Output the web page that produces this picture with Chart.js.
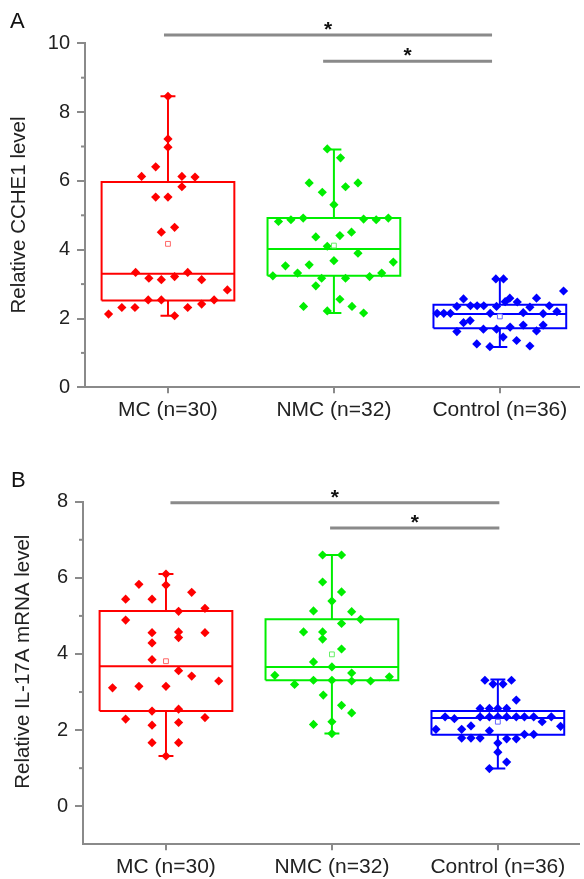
<!DOCTYPE html>
<html>
<head>
<meta charset="utf-8">
<script src="https://cdn.jsdelivr.net/npm/chart.js@4.4.0/dist/chart.umd.min.js"></script>
<style>
  html, body { margin: 0; padding: 0; background: #fff; }
  .panel { position: absolute; left: 0; width: 584px; }
  #pa { top: 0; height: 440px; }
  #pb { top: 440px; height: 439px; }
</style>
</head>
<body>
<div class="panel" id="pa"><canvas id="chartA"></canvas></div>
<div class="panel" id="pb"><canvas id="chartB"></canvas></div>
<script>
const groups = ["MC (n=30)", "NMC (n=32)", "Control (n=36)"];
const groupColors = ["#ff0000", "#00ee00", "#0000ff"];
const meanColors = ["#ff6666", "#66ee66", "#6666ff"];

// ---- panel A: relative CCHE1 level ----
const aMC = [8.46, 7.22, 6.98, 6.41, 6.13, 6.13, 6.11, 5.83, 5.53, 5.53, 4.51, 4.65, 3.34, 3.17, 3.13, 3.22, 3.34, 3.13, 2.83, 2.54, 2.54, 2.54, 2.42, 2.32, 2.32, 2.32, 2.13, 2.08];
const aMCJitter = [0, 0, 0, -0.074, -0.159, 0.084, 0.163, 0.084, -0.074, 0, -0.04, 0.04, -0.195, -0.115, -0.04, 0.04, 0.119, 0.203, 0.358, -0.119, -0.04, 0.278, 0.203, 0.119, -0.278, -0.199, -0.358, 0.04];
const aNMC = [6.93, 6.67, 5.94, 5.67, 5.83, 5.94, 5.31, 4.82, 4.87, 4.92, 4.89, 4.87, 4.92, 4.37, 4.41, 4.51, 4.10, 3.90, 3.68, 3.64, 3.53, 3.56, 3.32, 3.24, 3.17, 3.17, 3.22, 3.32, 2.95, 2.56, 2.35, 2.35, 2.22, 2.16];
const aNMCJitter = [-0.04, 0.04, -0.149, -0.07, 0.07, 0.145, 0, -0.334, -0.259, -0.185, 0.179, 0.255, 0.328, -0.109, 0.036, 0.106, -0.04, 0.145, 0, 0.358, -0.292, -0.149, -0.219, -0.368, -0.074, 0.07, 0.215, 0.288, -0.109, 0.036, -0.183, 0.109, -0.04, 0.179];
const aCtrl = [3.15, 3.15, 2.80, 2.57, 2.59, 2.59, 2.49, 2.48, 2.35, 2.37, 2.37, 2.37, 2.35, 2.33, 2.37, 2.20, 2.15, 2.15, 2.15, 2.15, 2.17, 2.14, 1.88, 1.94, 1.75, 1.81, 1.81, 1.62, 1.69, 1.69, 1.64, 1.46, 1.36, 1.26, 1.18, 1.20];
const aCtrlJitter = [-0.024, 0.022, 0.384, -0.219, 0.221, 0.06, 0.032, 0.105, -0.259, -0.177, -0.137, -0.097, -0.02, 0.181, 0.298, 0.344, -0.378, -0.338, -0.298, -0.058, 0.141, 0.261, -0.219, -0.179, 0.062, 0.141, 0.261, -0.259, -0.099, -0.02, 0.221, 0.02, 0.101, -0.139, -0.06, 0.181];
// box stats: [min, q1, median, q3, max]
const aBoxes = [[2.08, 2.52, 3.30, 5.97, 8.46], [2.16, 3.24, 4.02, 4.92, 6.91], [1.17, 1.72, 2.13, 2.40, 3.15]];
const aMeans = [4.17, 4.12, 2.06];
// significance bars: [from, to, level]
const aSig = [[0.976, 2.953, 10.24], [1.935, 2.953, 9.48]];
const aYTicks = [0, 2, 4, 6, 8, 10];
const aYMinor = [1, 3, 5, 7, 9];

// ---- panel B: relative IL-17A mRNA level ----
const bMC = [6.10, 5.81, 5.83, 5.44, 5.44, 5.62, 5.20, 5.12, 4.89, 4.56, 4.58, 4.43, 4.56, 4.29, 3.85, 3.56, 3.42, 3.29, 3.11, 3.15, 3.15, 2.50, 2.55, 2.29, 2.33, 2.13, 2.20, 1.67, 1.67, 1.32];
const bMCJitter = [0, 0, -0.163, -0.243, -0.084, 0.155, 0.235, 0.076, -0.243, -0.084, 0.076, 0.076, 0.235, -0.084, -0.084, 0.076, 0.155, 0.318, -0.322, -0.163, 0, -0.084, 0.076, -0.243, 0.235, -0.084, 0.076, -0.084, 0.076, 0];
const bNMC = [6.60, 6.60, 5.89, 5.63, 5.39, 5.13, 5.11, 4.91, 4.80, 4.58, 4.58, 4.39, 4.13, 3.79, 3.66, 3.44, 3.50, 3.40, 3.20, 3.31, 3.31, 3.29, 3.29, 2.92, 2.65, 2.45, 2.15, 2.22, 1.91];
const bNMCJitter = [-0.056, 0.058, -0.056, 0.058, 0, -0.111, 0.119, 0.173, 0.058, -0.171, -0.056, -0.056, 0.058, -0.111, 0, -0.344, 0.119, 0.346, -0.225, -0.111, 0, 0.119, 0.233, -0.052, 0.058, 0.119, -0.111, 0, 0];
const bCtrl = [3.31, 3.31, 3.21, 3.21, 2.79, 2.57, 2.57, 2.57, 2.57, 2.35, 2.30, 2.35, 2.35, 2.35, 2.35, 2.35, 2.35, 2.35, 2.22, 2.35, 2.02, 2.10, 2.02, 2.11, 1.98, 1.79, 1.79, 1.79, 1.77, 1.77, 1.89, 1.89, 1.66, 1.42, 1.16, 0.99];
const bCtrlJitter = [-0.078, 0.082, -0.029, 0.031, 0.111, -0.107, -0.051, 0, 0.053, -0.318, -0.262, -0.107, -0.051, 0, 0.053, 0.111, 0.16, 0.216, 0.267, 0.322, -0.373, 0.378, -0.218, -0.162, -0.051, -0.218, -0.162, -0.107, 0.053, 0.111, 0.16, 0.216, 0, 0, 0.053, -0.051];
const bBoxes = [[1.32, 2.50, 3.68, 5.13, 6.10], [1.91, 3.31, 3.66, 4.91, 6.60], [0.99, 1.88, 2.32, 2.50, 3.33]];
const bMeans = [3.81, 3.99, 2.22];
const bSig = [[1.027, 3.009, 7.97], [1.989, 3.009, 7.31]];
const bYTicks = [0, 2, 4, 6, 8];
const bYMinor = [1, 3, 5, 7];

const family = "'Liberation Sans', Arial, Helvetica, sans-serif";
const axisColor = "#8a8a8a";
Chart.defaults.font.family = family;

function boxLines(c, s) {
  const [mn, q1, md, q3, mx] = s;
  const h = 0.4, cap = 0.045;
  return [
    {x: c - h, y: q1}, {x: c + h, y: q1}, {x: c + h, y: q3}, {x: c - h, y: q3}, {x: c - h, y: q1}, {x: c, y: null},
    {x: c - h, y: md}, {x: c + h, y: md}, {x: c, y: null},
    {x: c, y: q3}, {x: c, y: mx}, {x: c, y: null},
    {x: c - cap, y: mx}, {x: c + cap, y: mx}, {x: c, y: null},
    {x: c, y: q1}, {x: c, y: mn}, {x: c, y: null},
    {x: c - cap, y: mn}, {x: c + cap, y: mn}
  ];
}

const panelDecor = {
  id: 'panelDecor',
  afterDraw(chart, args, o) {
    const {ctx} = chart;
    const x = chart.scales.x, y = chart.scales.y;
    ctx.save();
    ctx.strokeStyle = axisColor;
    ctx.lineWidth = 2;
    o.minor.forEach(v => {
      const py = y.getPixelForValue(v);
      ctx.beginPath();
      ctx.moveTo(y.right - 4, py);
      ctx.lineTo(y.right, py);
      ctx.stroke();
    });
    ctx.fillStyle = "#111";
    ctx.font = "bold 21px " + family;
    ctx.textAlign = "center";
    ctx.textBaseline = "alphabetic";
    o.sig.forEach(([x0, x1, v]) => {
      ctx.fillText("*", x.getPixelForValue((x0 + x1) / 2), y.getPixelForValue(v) + 1);
    });
    ctx.font = "22px " + family;
    ctx.textAlign = "left";
    ctx.fillText(o.letter, o.letterX, o.letterY);
    ctx.translate(o.titleX, o.titleY);
    ctx.rotate(-Math.PI / 2);
    ctx.font = "20.5px " + family;
    ctx.textAlign = "center";
    ctx.textBaseline = "middle";
    ctx.fillStyle = "#222";
    ctx.fillText(o.title, 0, 0);
    ctx.restore();
  }
};

function makePanel(id, p) {
  const datasets = [];
  p.sig.forEach(([x0, x1, v]) => {
    datasets.push({
      type: 'line', data: [{x: x0, y: v}, {x: x1, y: v}],
      borderColor: "#8a8a8a", borderWidth: 3, pointRadius: 0, clip: false, order: 5
    });
  });
  p.boxes.forEach((s, i) => {
    datasets.push({
      type: 'line', data: boxLines(i + 1, s), borderColor: groupColors[i], borderWidth: 2,
      pointRadius: 0, fill: false, tension: 0, spanGaps: false, borderJoinStyle: 'miter', order: 3
    });
  });
  p.values.forEach((vals, i) => {
    datasets.push({
      type: 'scatter', data: vals.map((v, k) => ({x: i + 1 + p.jitter[i][k], y: v})),
      pointStyle: 'rectRot', pointRadius: 4.6, backgroundColor: groupColors[i],
      borderColor: groupColors[i], borderWidth: 0, order: 2
    });
  });
  datasets.push({
    type: 'scatter', data: p.means.map((m, i) => ({x: i + 1, y: m})),
    pointStyle: 'rect', pointRadius: 3.4, backgroundColor: "#fff",
    borderColor: meanColors, borderWidth: 1, order: 1
  });

  return new Chart(document.getElementById(id), {
    type: 'scatter',
    data: {datasets},
    options: {
      responsive: true,
      maintainAspectRatio: false,
      animation: false,
      events: [],
      layout: {padding: p.padding},
      scales: {
        x: {
          type: 'linear', min: 0.5, max: p.xMax,
          afterBuildTicks: s => { s.ticks = [1, 2, 3].map(v => ({value: v})); },
          afterFit: s => { s.height = p.xHeight; },
          ticks: {callback: v => groups[v - 1], font: {size: 21}, color: "#222", padding: 4, maxRotation: 0, autoSkip: false},
          grid: {drawOnChartArea: false, drawTicks: true, tickLength: 6, color: axisColor, lineWidth: 2},
          border: {display: true, color: axisColor, width: 2}
        },
        y: {
          type: 'linear', min: p.yMin, max: p.yMax,
          afterBuildTicks: s => { s.ticks = p.yTicks.map(v => ({value: v})); },
          afterFit: s => { s.width = p.yWidth; },
          ticks: {font: {size: 20}, color: "#222", padding: 7},
          grid: {drawOnChartArea: false, drawTicks: true, tickLength: 8, color: axisColor, lineWidth: 2},
          border: {display: true, color: axisColor, width: 2}
        }
      },
      plugins: {
        legend: {display: false},
        tooltip: {enabled: false},
        panelDecor: {
          minor: p.yMinor, sig: p.sig, letter: p.letter, letterX: p.letterX, letterY: p.letterY,
          title: p.title, titleX: p.titleX, titleY: p.titleY
        }
      }
    },
    plugins: [panelDecor]
  });
}

makePanel('chartA', {
  values: [aMC, aNMC, aCtrl], jitter: [aMCJitter, aNMCJitter, aCtrlJitter],
  boxes: aBoxes, means: aMeans, sig: aSig, yTicks: aYTicks, yMinor: aYMinor,
  yMin: 0, yMax: 10, xMax: 3.477, yWidth: 85, xHeight: 40,
  padding: {top: 43.3, right: 0, bottom: 12.7, left: 0},
  letter: "A", letterX: 10, letterY: 28,
  title: "Relative CCHE1 level", titleX: 19.5, titleY: 215
});

makePanel('chartB', {
  values: [bMC, bNMC, bCtrl], jitter: [bMCJitter, bNMCJitter, bCtrlJitter],
  boxes: bBoxes, means: bMeans, sig: bSig, yTicks: bYTicks, yMinor: bYMinor,
  yMin: -1, yMax: 8, xMax: 3.489, yWidth: 83, xHeight: 34,
  padding: {top: 61.7, right: 0, bottom: 0.7, left: 0},
  letter: "B", letterX: 11, letterY: 47,
  title: "Relative IL-17A mRNA level", titleX: 23.3, titleY: 221.7
});
</script>
</body>
</html>
